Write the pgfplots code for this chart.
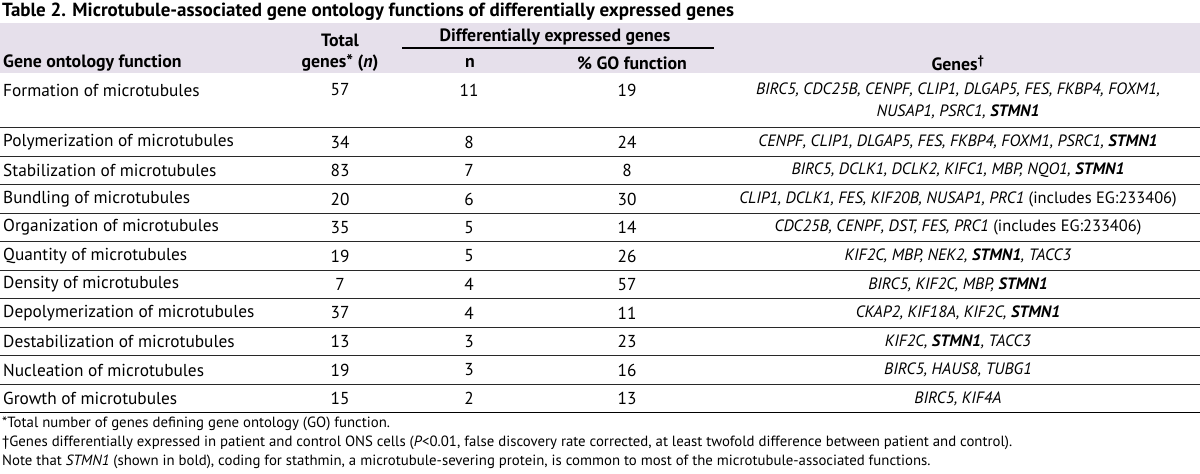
\documentclass[border=0pt]{standalone}
\usepackage{pgfplots}
\pgfplotsset{compat=1.18}
\usepackage{pgfplotstable}
\usepackage{fontspec}
\setmainfont{PT Sans}
\definecolor{band}{RGB}{230,224,235}
\definecolor{rule}{RGB}{40,40,40}
\newcommand{\bodyfont}{\fontsize{17.3}{19}\selectfont}
\newcommand{\genefont}{\fontsize{16.4}{19}\selectfont}
\newcommand{\headfont}{\fontsize{17.8}{19}\selectfont\bfseries}
\newcommand{\notefont}{\fontsize{14.8}{16}\selectfont}
\newcommand{\stm}{\textbf{STMN1}}
\tikzset{
  hd/.style={font=\headfont, inner sep=0pt},
  nm/.style={anchor=west, font=\bodyfont, inner sep=0pt},
  gn/.style={font=\genefont, inner sep=0pt},
  fn/.style={anchor=west, font=\notefont, inner sep=0pt},
}

\pgfplotstableread{
y total n pct
90 57 11 19
142 34 8 24
170.5 83 7 8
199 20 6 30
227.5 35 5 14
256 19 5 26
284.5 7 4 57
313 37 4 11
341.5 13 3 23
370 19 3 16
398.5 15 2 13
}\datatable

\begin{document}
\begin{tikzpicture}
\begin{axis}[
  width=1200pt, height=474pt, scale only axis,
  xmin=0, xmax=1200, ymin=0, ymax=474, y dir=reverse,
  axis lines=none, ticks=none, clip=false,
]
\coordinate (BL) at (axis cs:0,474);
\coordinate (TR) at (axis cs:1200,0);
% header band
\fill[band] (axis cs:0,23) rectangle (axis cs:1200,73);
% title
\node[anchor=west, font=\fontsize{19}{21}\selectfont\bfseries, inner sep=0pt] at (axis cs:2,12)
  {Table 2. Microtubule-associated gene ontology functions of differentially expressed genes};
% header
\node[hd, anchor=west] at (axis cs:3,63) {Gene ontology function};
\node[hd] at (axis cs:340,40) {Total};
\node[hd] at (axis cs:340,63) {genes* (\textit{n})};
\node[hd] at (axis cs:555,37) {Differentially expressed genes};
\addplot[black, line width=1.2pt, mark=none] coordinates {(402,48) (714,48)};
\node[hd] at (axis cs:470,63) {n};
\node[hd] at (axis cs:632,63) {\% GO function};
\node[hd] at (axis cs:958,63) {Genes\textsuperscript{\dag}};
% rules
\addplot[rule, line width=1pt, mark=none] coordinates {(0,127.5) (1200,127.5)};
\addplot[rule, line width=1pt, mark=none] coordinates {(0,156) (1200,156)};
\addplot[rule, line width=1pt, mark=none] coordinates {(0,184.5) (1200,184.5)};
\addplot[rule, line width=1pt, mark=none] coordinates {(0,213) (1200,213)};
\addplot[rule, line width=1pt, mark=none] coordinates {(0,241.5) (1200,241.5)};
\addplot[rule, line width=1pt, mark=none] coordinates {(0,270) (1200,270)};
\addplot[rule, line width=1pt, mark=none] coordinates {(0,298.5) (1200,298.5)};
\addplot[rule, line width=1pt, mark=none] coordinates {(0,327) (1200,327)};
\addplot[rule, line width=1pt, mark=none] coordinates {(0,355.5) (1200,355.5)};
\addplot[rule, line width=1pt, mark=none] coordinates {(0,384) (1200,384)};
\addplot[black, line width=1pt, mark=none] coordinates {(0,412.5) (1200,412.5)};
% numbers
\addplot[draw=none, mark=none, nodes near coords, point meta=explicit symbolic,
  nodes near coords style={anchor=center, font=\bodyfont, inner sep=0pt}]
  table[x expr=340, y=y, meta=total] {\datatable};
\addplot[draw=none, mark=none, nodes near coords, point meta=explicit symbolic,
  nodes near coords style={anchor=center, font=\bodyfont, inner sep=0pt}]
  table[x expr=469, y=y, meta=n] {\datatable};
\addplot[draw=none, mark=none, nodes near coords, point meta=explicit symbolic,
  nodes near coords style={anchor=center, font=\bodyfont, inner sep=0pt}]
  table[x expr=627, y=y, meta=pct] {\datatable};
% row names
\node[nm] at (axis cs:3,90) {Formation of microtubules};
\node[nm] at (axis cs:3,142) {Polymerization of microtubules};
\node[nm] at (axis cs:3,170.5) {Stabilization of microtubules};
\node[nm] at (axis cs:3,199) {Bundling of microtubules};
\node[nm] at (axis cs:3,227.5) {Organization of microtubules};
\node[nm] at (axis cs:3,256) {Quantity of microtubules};
\node[nm] at (axis cs:3,284.5) {Density of microtubules};
\node[nm] at (axis cs:3,313) {Depolymerization of microtubules};
\node[nm] at (axis cs:3,341.5) {Destabilization of microtubules};
\node[nm] at (axis cs:3,370) {Nucleation of microtubules};
\node[nm] at (axis cs:3,398.5) {Growth of microtubules};
% genes
\node[gn] at (axis cs:958,90) {\textit{BIRC5, CDC25B, CENPF, CLIP1, DLGAP5, FES, FKBP4, FOXM1,}};
\node[gn] at (axis cs:958,112) {\textit{NUSAP1, PSRC1, \stm}};
\node[gn] at (axis cs:958,142) {\textit{CENPF, CLIP1, DLGAP5, FES, FKBP4, FOXM1, PSRC1, \stm}};
\node[gn] at (axis cs:958,170.5) {\textit{BIRC5, DCLK1, DCLK2, KIFC1, MBP, NQO1, \stm}};
\node[gn] at (axis cs:958,199) {\textit{CLIP1, DCLK1, FES, KIF20B, NUSAP1, PRC1} (includes EG:233406)};
\node[gn] at (axis cs:958,227.5) {\textit{CDC25B, CENPF, DST, FES, PRC1} (includes EG:233406)};
\node[gn] at (axis cs:958,256) {\textit{KIF2C, MBP, NEK2, \stm, TACC3}};
\node[gn] at (axis cs:958,284.5) {\textit{BIRC5, KIF2C, MBP, \stm}};
\node[gn] at (axis cs:958,313) {\textit{CKAP2, KIF18A, KIF2C, \stm}};
\node[gn] at (axis cs:958,341.5) {\textit{KIF2C, \stm, TACC3}};
\node[gn] at (axis cs:958,370) {\textit{BIRC5, HAUS8, TUBG1}};
\node[gn] at (axis cs:958,398.5) {\textit{BIRC5, KIF4A}};
% footnotes
\node[fn] at (axis cs:2,424) {*Total number of genes defining gene ontology (GO) function.};
\node[fn] at (axis cs:2,443) {\dag Genes differentially expressed in patient and control ONS cells (\textit{P}<0.01, false discovery rate corrected, at least twofold difference between patient and control).};
\node[fn] at (axis cs:2,462) {Note that \textit{STMN1} (shown in bold), coding for stathmin, a microtubule-severing protein, is common to most of the microtubule-associated functions.};
\end{axis}
\pgfresetboundingbox
\path[use as bounding box] (BL) rectangle (TR);
\end{tikzpicture}
\end{document}
